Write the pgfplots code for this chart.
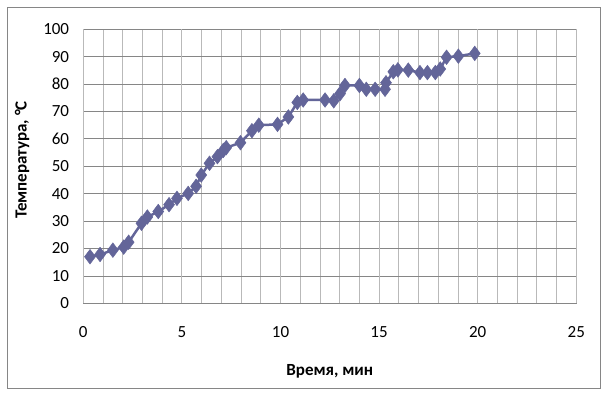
\documentclass[border=0pt]{standalone}
\usepackage{fontspec}
\setmainfont{Carlito}
\usepackage{pgfplots}
\pgfplotsset{compat=1.18}
\definecolor{mk}{RGB}{99,101,153}
\definecolor{majg}{RGB}{134,134,134}
\definecolor{ming}{RGB}{185,185,185}
\begin{document}
\begin{tikzpicture}
\useasboundingbox (-83.3bp,-91.7bp) rectangle (524.7bp,303.3bp);
\begin{axis}[
  scale only axis,
  width=493bp, height=274bp,
  xmin=0, xmax=25, ymin=0, ymax=100,
  xtick={0,5,...,25}, ytick={0,10,...,100},
  minor x tick num=4,
  xmajorgrids=false, xminorgrids=true, ymajorgrids=true,
  extra x ticks={0,5,...,25}, extra x tick labels={},
  extra x tick style={grid=major, major grid style={ming, line width=0.8bp}},
  minor grid style={ming, line width=0.8bp},
  major grid style={majg, line width=0.8bp},
  axis line style={majg, line width=0.8bp},
  major tick length=0pt, minor tick length=0pt,
  /pgf/number format/assume math mode=true,
  ticklabel style={font=\fontsize{17bp}{19bp}\selectfont},
  yticklabel style={anchor=east, inner sep=0pt, xshift=-14bp},
  xticklabel style={anchor=base, inner sep=0pt, yshift=-34bp},
  xlabel={Время, мин},
  ylabel={Температура, °C},
  label style={font=\bfseries\fontsize{17bp}{19bp}\selectfont},
  xlabel style={at={(axis description cs:0.5,-0.2653)}, anchor=base, inner sep=0pt},
  ylabel style={at={(axis description cs:-0.1148,0.523)}, anchor=base, inner sep=0pt},
  clip=false,
]
\addplot[mk, line width=2.5bp, mark=diamond*, mark size=7.3bp, mark options={fill=mk, draw=mk, line width=0.5bp}] coordinates {
(0.34,17) (0.85,17.8) (1.5,19.4) (2.05,20.5) (2.3,22.3) (2.95,29.2) (3.25,31.5)
(3.8,33.5) (4.35,36) (4.75,38.3) (5.32,40.1) (5.72,42.7) (5.98,46.8) (6.4,51.1)
(6.8,53.5) (7.1,55.8) (7.25,56.8) (7.97,58.6) (8.55,63) (8.9,65) (9.85,65.3)
(10.4,68) (10.85,73.3) (11.15,74.2) (12.26,74.2) (12.7,73.9) (13.02,76.5)
(13.27,79.5) (14.0,79.5) (14.35,78.1) (14.8,78.1) (15.3,78.1) (15.35,80.5)
(15.72,84.5) (15.95,85.2) (16.48,85.1) (17.07,84.2) (17.45,84.2) (17.85,84.2)
(18.1,85.5) (18.42,89.8) (19.02,90.2) (19.85,91.2)
};
\end{axis}
\draw[majg, line width=0.8bp] (-76.3bp,-84.7bp) rectangle (516.7bp,296.3bp);
\end{tikzpicture}
\end{document}
